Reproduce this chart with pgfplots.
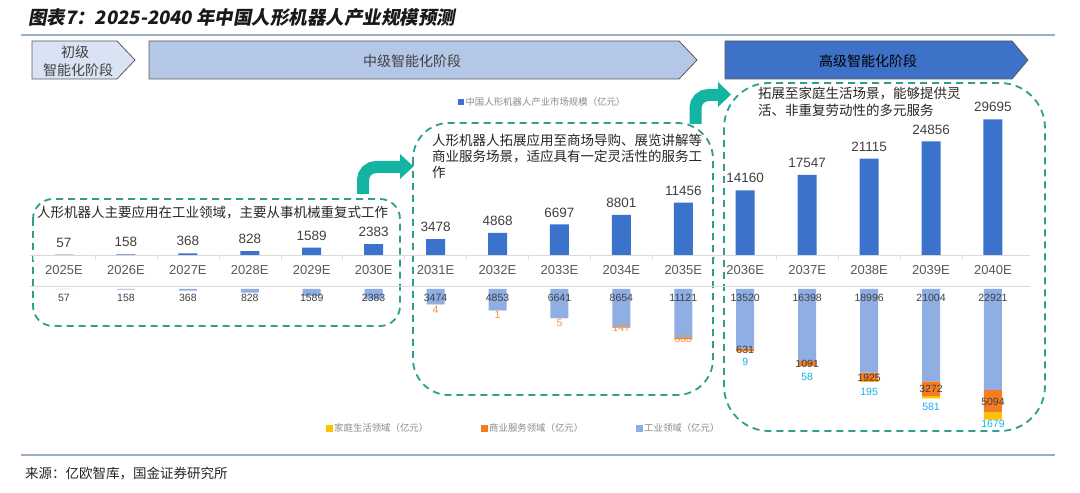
\documentclass[border=0pt]{standalone}
\usepackage{fontspec}
\setmainfont{Liberation Sans}
\newfontfamily\cjk{Noto Sans CJK SC}
\newfontfamily\cjkt[FakeSlant=0.18]{Noto Sans CJK SC}
\usepackage{pgfplots}
\pgfplotsset{compat=1.18}
\definecolor{barblue}{HTML}{3A72CC}
\definecolor{indblue}{HTML}{8EAEE4}
\definecolor{corange}{HTML}{F57C1F}
\definecolor{cyellow}{HTML}{FFC000}
\definecolor{ccyan}{HTML}{14B2EE}
\definecolor{lorange}{HTML}{F7924A}
\definecolor{tealA}{HTML}{13B5A2}
\definecolor{tealD}{HTML}{2E9E8E}
\definecolor{bA}{HTML}{DAE3F3}
\definecolor{bB}{HTML}{B4C7E7}
\definecolor{bC}{HTML}{3E72C8}
\definecolor{rule}{HTML}{9AAFC2}
\definecolor{t40}{HTML}{404040}
\definecolor{t59}{HTML}{595959}
\definecolor{t7f}{HTML}{8A8A8A}
\newcommand\fTick{\fontsize{13}{15}\selectfont}
\newcommand\fVal{\fontsize{13.5}{15}\selectfont}
\newcommand\fSmall{\fontsize{10.5}{12}\selectfont}
\newcommand\fNote{\fontsize{13.5}{15.8}\selectfont\cjk}
\newcommand\fLeg{\fontsize{9.4}{11}\selectfont\cjk}
\pgfplotsset{/pgf/number format/.cd, 1000 sep={}, assume math mode=true}
\begin{document}
\begin{tikzpicture}[x=1pt,y=1pt]
\useasboundingbox (0,0) rectangle (1080,493);
\fill[white] (0,0) rectangle (1080,493);
\begin{scope}[yshift=493pt,y=-1pt]
% title and rules
\node[anchor=west, font=\fontsize{18.5}{20}\selectfont\cjkt\bfseries, text=black!90, inner sep=0pt] at (28,18) {图表7：2025-2040 年中国人形机器人产业规模预测};
\draw[rule, line width=1.2pt] (21,35) -- (1055,35);
\draw[rule, line width=1.2pt] (21,455) -- (1055,455);
\node[anchor=west, font=\fontsize{13.5}{15}\selectfont\cjk, text=black!85, inner sep=0pt] at (25,473) {来源：亿欧智库，国金证券研究所};
% banners
\draw[draw=t59, line width=0.8pt, fill=bA] (32,41) -- (117,41) -- (135,60) -- (117,79) -- (32,79) -- cycle;
\draw[draw=t59, line width=0.8pt, fill=bB] (149,41) -- (679,41) -- (697,60) -- (679,79) -- (149,79) -- cycle;
\draw[draw=t59, line width=0.8pt, fill=bC] (725,41) -- (1012,41) -- (1028,60) -- (1012,79) -- (725,79) -- cycle;
\node[font=\fontsize{14}{16}\selectfont\cjk, text=t40] at (75,52) {初级};
\node[font=\fontsize{14}{16}\selectfont\cjk, text=t40] at (78,70) {智能化阶段};
\node[font=\fontsize{14}{16}\selectfont\cjk, text=t40] at (412,61) {中级智能化阶段};
\node[font=\fontsize{14}{16}\selectfont\cjk, text=black] at (868,61) {高级智能化阶段};
% dashed boxes
\draw[tealD, line width=1.8pt, dash pattern=on 7pt off 5pt, rounded corners=20pt] (33,199) rectangle (400,326);
\draw[tealD, line width=1.8pt, dash pattern=on 7pt off 5pt, rounded corners=36pt] (413,123) rectangle (713,395);
\draw[tealD, line width=1.8pt, dash pattern=on 7pt off 5pt, rounded corners=45pt] (724,83) rectangle (1045,431);
% arrows
\draw[tealA, line width=12pt, rounded corners=13pt] (363,194) -- (363,167) -- (401,167);
\fill[tealA] (400,154) -- (413.5,166.5) -- (400,179) -- cycle;
\draw[tealA, line width=12pt, rounded corners=13pt] (695.5,124) -- (695.5,95) -- (719,95);
\fill[tealA] (718,82) -- (731,94.5) -- (718,107) -- cycle;
% notes
\node[anchor=west, font=\fNote, text=black!85, inner sep=0pt] at (37,213) {人形机器人主要应用在工业领域，主要从事机械重复式工作};
\node[anchor=north west, align=left, font=\fNote, text=black!85, inner sep=0pt] at (432,134) {人形机器人拓展应用至商场导购、展览讲解等\\商业服务场景，适应具有一定灵活性的服务工\\作};
\node[anchor=north west, align=left, font=\fontsize{13.5}{16.5}\selectfont\cjk, text=black!85, inner sep=0pt] at (758,87) {拓展至家庭生活场景，能够提供灵\\活、非重复劳动性的多元服务};
\end{scope}

% ---------- top axis: market size ----------
\begin{axis}[
  at={(30pt,238pt)}, anchor=south west, scale only axis,
  width=1000pt, height=155pt,
  xmin=-0.549, xmax=15.598, ymin=0, ymax=33917,
  ybar, bar width=19pt,
  axis x line*=bottom, axis y line=none,
  x axis line style={draw=black!15, -},
  xtick={0,...,15},
  xticklabels={2025E,2026E,2027E,2028E,2029E,2030E,2031E,2032E,2033E,2034E,2035E,2036E,2037E,2038E,2039E,2040E},
  major tick length=0pt,
  xticklabel style={font=\fTick, text=t59, anchor=center, yshift=-15pt},
  extra x ticks={-0.5,0.5,1.5,2.5,3.5,4.5,5.5,6.5,7.5,8.5,9.5,10.5,11.5,12.5,13.5,14.5},
  extra x tick labels={},
  extra x tick style={major tick length=5pt, tick align=outside, tick style={draw=black!12, line width=0.5pt}},
  nodes near coords, nodes near coords align=center,
  every node near coord/.append style={font=\fVal, text=t40, yshift=12pt},
  legend style={at={(0.428,0.987)}, anchor=west, draw=none, fill=none, font=\fLeg, text=t7f, inner sep=0pt},
  legend image code/.code={\fill[barblue] (0pt,-2.7pt) rectangle (5.4pt,2.7pt);},
]
\addplot[fill=barblue, draw=none] table[x=x,y=y] {
x y
0 57
1 158
2 368
3 828
4 1589
5 2383
6 3478
7 4868
8 6697
9 8801
10 11456
11 14160
12 17547
13 21115
14 24856
15 29695
};
\addlegendentry{中国人形机器人产业市场规模（亿元）}
\end{axis}

% ---------- bottom axis: by field (downward) ----------
\begin{axis}[
  at={(30pt,207pt)}, anchor=north west, scale only axis,
  width=1000pt, height=154pt,
  xmin=-0.549, xmax=15.598, ymin=-34318, ymax=682,
  ybar stacked, bar width=18pt,
  axis x line*=top, axis y line=none,
  x axis line style={draw=black!15, -},
  xtick=\empty,
]
\addplot[fill=indblue, draw=none] table[x=x,y=y] {
x y
0 -57
1 -158
2 -368
3 -828
4 -1589
5 -2383
6 -3474
7 -4853
8 -6641
9 -8654
10 -11121
11 -13520
12 -16398
13 -18996
14 -21004
15 -22921
};
\addplot[fill=corange, draw=none] table[x=x,y=y] {
x y
0 0
1 0
2 0
3 0
4 0
5 0
6 -4
7 -1
8 -5
9 -147
10 -335
11 -631
12 -1091
13 -1925
14 -3272
15 -5094
};
\addplot[fill=cyellow, draw=none] table[x=x,y=y] {
x y
0 0
1 0
2 0
3 0
4 0
5 0
6 0
7 0
8 0
9 0
10 0
11 -9
12 -58
13 -195
14 -581
15 -1679
};
\end{axis}

% ---------- labels for bottom ----------
\begin{axis}[
  at={(30pt,207pt)}, anchor=north west, scale only axis,
  width=1000pt, height=154pt,
  xmin=-0.549, xmax=15.598, ymin=-34318, ymax=682,
  hide axis,
  nodes near coords align=center,
  legend style={at={(0.296,0.078)}, anchor=west, draw=none, fill=none, font=\fLeg, text=t7f, inner sep=0pt,
    legend columns=3, /tikz/every even column/.append style={column sep=51pt}},
  legend cell align=left,
]
\addlegendimage{legend image code/.code={\fill[cyellow] (0pt,-2.8pt) rectangle (5.6pt,2.8pt);}}
\addlegendentry{家庭生活领域（亿元）}
\addlegendimage{legend image code/.code={\fill[corange] (0pt,-2.8pt) rectangle (5.6pt,2.8pt);}}
\addlegendentry{商业服务领域（亿元）}
\addlegendimage{legend image code/.code={\fill[indblue] (0pt,-2.8pt) rectangle (5.6pt,2.8pt);}}
\addlegendentry{工业领域（亿元）}
\addplot[forget plot, only marks, mark=*, mark size=0pt, mark options={draw=none,fill=none},
  nodes near coords, point meta=explicit symbolic,
  every node near coord/.append style={font=\fSmall, text=t40}] table[x=x,y=y,meta=l] {
x y l
0 -2045 57
1 -2045 158
2 -2045 368
3 -2045 828
4 -2045 1589
5 -2045 2383
6 -2045 3474
7 -2045 4853
8 -2045 6641
9 -2045 8654
10 -2045 11121
11 -2045 13520
12 -2045 16398
13 -2045 18996
14 -2045 21004
15 -2045 22921
};
\addplot[forget plot, only marks, mark=*, mark size=0pt, mark options={draw=none,fill=none},
  nodes near coords, point meta=explicit symbolic,
  every node near coord/.append style={font=\fSmall, text=lorange}] table[x=x,y=y,meta=l] {
x y l
6 -4773 4
7 -5909 1
8 -7727 5
9 -8864 147
10 -11364 335
};
\addplot[forget plot, only marks, mark=*, mark size=0pt, mark options={draw=none,fill=none},
  nodes near coords, point meta=explicit symbolic,
  every node near coord/.append style={font=\fSmall, text=t40}] table[x=x,y=y,meta=l] {
x y l
11 -13864 631
12 -17045 1091
13 -20227 1925
14 -22727 3272
15 -25682 5094
};
\addplot[forget plot, only marks, mark=*, mark size=0pt, mark options={draw=none,fill=none},
  nodes near coords, point meta=explicit symbolic,
  every node near coord/.append style={font=\fSmall, text=ccyan}] table[x=x,y=y,meta=l] {
x y l
11 -16591 9
12 -20000 58
13 -23409 195
14 -26818 581
15 -30682 1679
};
\end{axis}
\end{tikzpicture}
\end{document}
